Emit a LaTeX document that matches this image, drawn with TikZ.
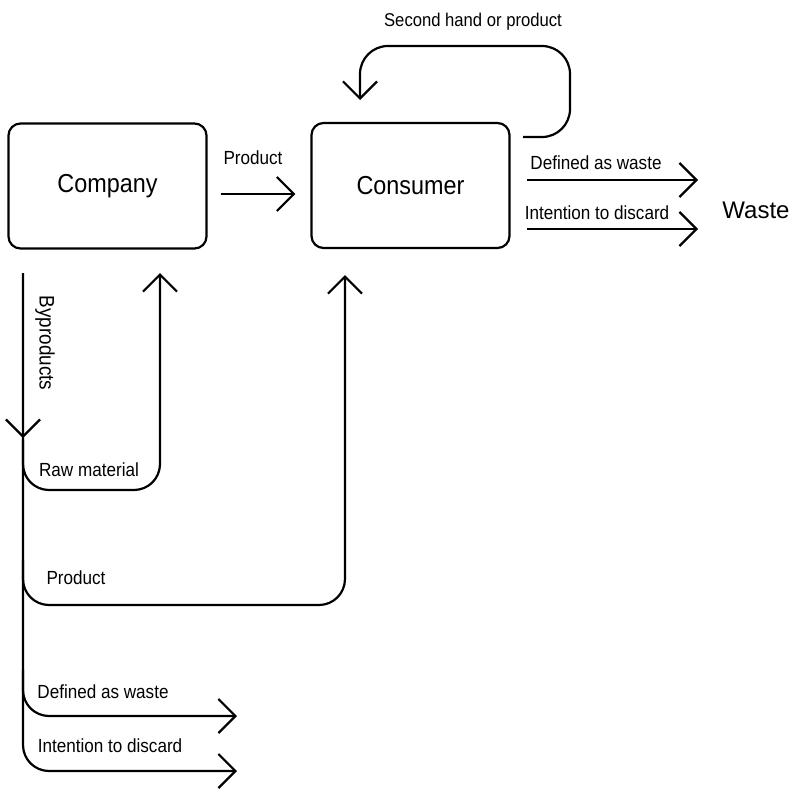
\documentclass[tikz,border=0pt]{standalone}
\usepackage{fontspec}
\setmainfont{Liberation Sans}
\newfontfamily\narrowsans{Liberation Sans}[FakeStretch=0.9]
\usetikzlibrary{arrows.meta}
\begin{document}
\begin{tikzpicture}[x=1pt,y=-1pt, line width=2.2pt,
  box/.style={draw, rounded corners=12pt, minimum width=198pt, minimum height=125pt, inner sep=0pt,
    font=\narrowsans\fontsize{26}{30}\selectfont},
  lbl/.style={font=\narrowsans\fontsize{19}{22}\selectfont, inner sep=0pt},
  arr/.style={-{Straight Barb[length=17pt,width=34pt]}},
  flow/.style={rounded corners=26pt}]
\useasboundingbox (0,0) rectangle (795,790);

\node[box] (company) at (107.5,186) {Company};
\node[box] (consumer) at (410.5,185.5) {Consumer};
\node[font=\fontsize{24}{28}\selectfont, inner sep=0pt] (waste) at (756,210) {Waste};

% company -> consumer
\draw[arr, shorten <=13pt, shorten >=15pt] ([yshift=-8pt]company.east) -- ([yshift=-8.5pt]consumer.west);
\node[lbl] (lprod) at (253,158) {Product};

% second hand loop
\coordinate (loopstart) at (523,137);
\coordinate (loopend) at (360,100);
\draw[arr, rounded corners=28pt] (loopstart) -- (570,137) -- (570,46) -- (360,46) -- (loopend);
\node[lbl, font=\narrowsans\fontsize{18.5}{22}\selectfont] (lsecond) at (473,22) {Second hand or product};

% consumer -> waste
\coordinate (c1) at (527,180);
\coordinate (w1) at (698,180);
\coordinate (c2) at (527,229);
\coordinate (w2) at (698,229);
\draw[arr] (c1) -- (w1);
\draw[arr] (c2) -- (w2);
\node[lbl] (ldef) at (596,163) {Defined as waste};
\node[lbl] (lint) at (597,213) {Intention to discard};

% byproducts trunk
\coordinate (btop) at (23,273);
\coordinate (bend) at (237,771);
\draw[flow, arr] (btop) -- (23,771) -- (bend);
\draw[arr] (23,415) -- (23,438);
\node[font=\narrowsans\fontsize{21}{24}\selectfont, inner sep=0pt, rotate=-90] (lbyp) at (45,343) {Byproducts};

% raw material back to company
\coordinate (rawtip) at (160,273);
\draw[flow, arr] (23,440) -- (23,490) -- (160,490) -- (rawtip);
\node[lbl] (lraw) at (89,470) {Raw material};

% product to consumer
\coordinate (prodtip) at (345,275);
\draw[flow, arr] (23,560) -- (23,605) -- (345,605) -- (prodtip);
\node[lbl] (lprod2) at (76,578) {Product};

% defined as waste (company)
\coordinate (dtip) at (237,716);
\draw[flow, arr] (23,670) -- (23,716) -- (dtip);
\node[lbl] (ldef2) at (103,692) {Defined as waste};
\node[lbl] (lint2) at (110,746) {Intention to discard};
\end{tikzpicture}
\end{document}
